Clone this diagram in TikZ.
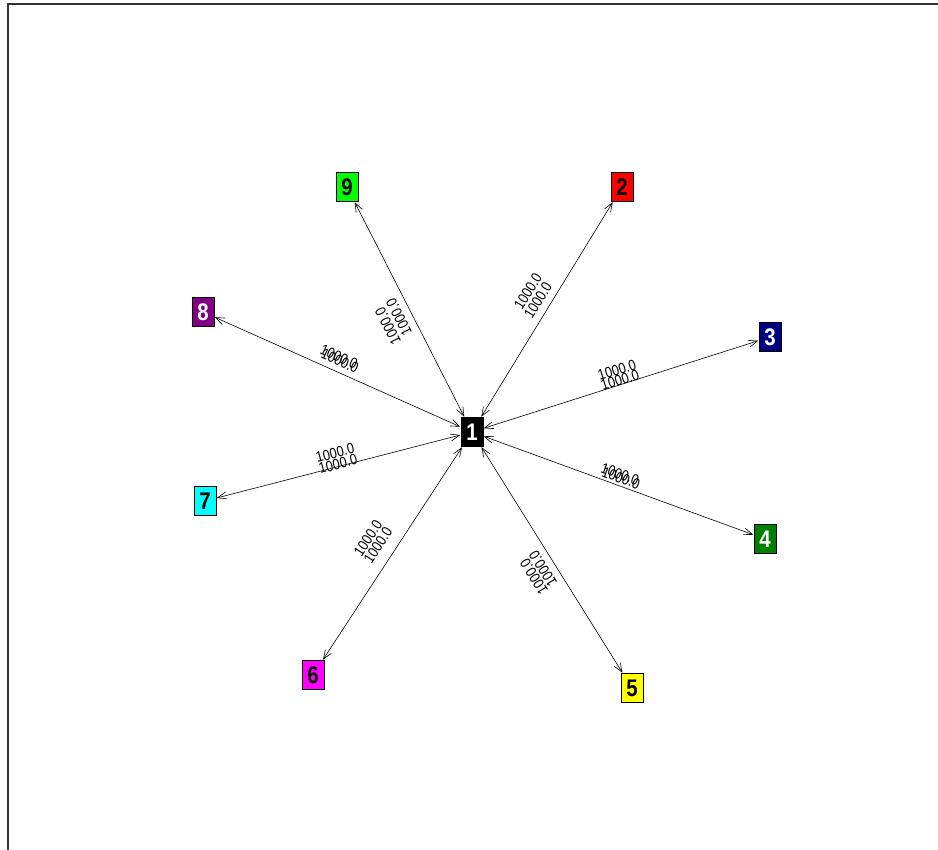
\documentclass[tikz,border=0pt]{standalone}
\usepackage{fontspec}
\setmainfont{Liberation Sans}
\newfontfamily\narrowsans[FakeStretch=0.85]{Liberation Sans}
\usepackage{xcolor}
\usetikzlibrary{arrows.meta}
\definecolor{cRed}{HTML}{FF0000}
\definecolor{cNavy}{HTML}{000080}
\definecolor{cGreen}{HTML}{008000}
\definecolor{cYellow}{HTML}{FFFF00}
\definecolor{cMagenta}{HTML}{FF00FF}
\definecolor{cCyan}{HTML}{00FFFF}
\definecolor{cPurple}{HTML}{800080}
\definecolor{cLime}{HTML}{00FF00}
\definecolor{cFrame}{HTML}{333333}
\tikzset{
  vbox/.style={draw=black,fill=#1,line width=0.6pt,minimum width=22pt,minimum height=29pt,inner sep=0pt,font=\narrowsans\fontsize{24}{24}\selectfont\bfseries,text=black},
  vbox/.default=white,
  wbox/.style={vbox=#1,text=white},
  arr/.style={{Straight Barb[length=9pt,width=7pt]}-{Straight Barb[length=9pt,width=7pt]},line width=0.6pt,shorten <=0.5pt,shorten >=0.5pt},
  wt/.style={font=\narrowsans\fontsize{15}{15}\selectfont,inner sep=0pt,rotate=#1},
}

\begin{document}
\begin{tikzpicture}[x=1pt,y=-1pt]
    \useasboundingbox (0,0) rectangle (938,850);
    \draw[line width=1.6pt,cFrame] (8,850) -- (8,4) -- (938,4);
    % vertices
    \node[wbox=black] (n1) at (472,432) {1};
    \node[vbox=cRed] (n2) at (622,187) {2};
    \node[wbox=cNavy] (n3) at (770,337) {3};
    \node[wbox=cGreen] (n4) at (765,539) {4};
    \node[vbox=cYellow] (n5) at (632,688) {5};
    \node[vbox=cMagenta] (n6) at (313,675) {6};
    \node[vbox=cCyan] (n7) at (205,501) {7};
    \node[wbox=cPurple] (n8) at (203,312) {8};
    \node[vbox=cLime] (n9) at (347,187) {9};
    % edges
    \foreach \k in {2,...,9} {\draw[arr] (n1) -- (n\k);}
    % edge values
    \node[wt=58.5] (l2a) at (528,291) {1000.0};
    \node[wt=58.5] (l2b) at (538,300) {1000.0};
    \node[wt=17.7] (l3a) at (617,370) {1000.0};
    \node[wt=17.7] (l3b) at (620,380) {1000.0};
    \node[wt=-20] (l4a) at (620,474) {1000.0};
    \node[wt=-20] (l4b) at (621,478) {1000.0};
    \node[wt=122] (l5a) at (543,569) {1000.0};
    \node[wt=122] (l5b) at (534,577) {1000.0};
    \node[wt=56.8] (l6a) at (368,538) {1000.0};
    \node[wt=56.8] (l6b) at (378,545) {1000.0};
    \node[wt=14.5] (l7a) at (335,453) {1000.0};
    \node[wt=14.5] (l7b) at (338,464) {1000.0};
    \node[wt=-24] (l8a) at (339,357) {1000.0};
    \node[wt=-24] (l8b) at (340,361) {1000.0};
    \node[wt=117] (l9a) at (399,317) {1000.0};
    \node[wt=117] (l9b) at (388,326) {1000.0};
  \end{tikzpicture}
\end{document}
